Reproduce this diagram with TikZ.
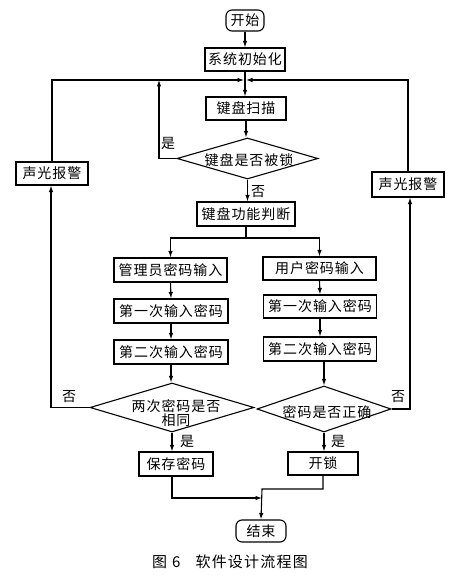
\documentclass[tikz,border=0pt]{standalone}
\usepackage{fontspec}
\newfontfamily\cjk[LetterSpace=7]{Noto Sans CJK SC}
\newfontfamily\cjkcap[LetterSpace=8]{Noto Sans CJK SC}
\usetikzlibrary{shapes.geometric,arrows.meta}
\tikzset{
  box/.style={draw, line width=1.1pt, inner sep=0pt, font=\cjk\fontsize{14}{15}\selectfont},
  term/.style={box, rounded corners=6pt},
  dia/.style={draw, line width=1.1pt, diamond, inner sep=0pt},
  ln/.style={line width=1.1pt},
  arr/.style={ln, -{Latex[length=6.5pt,width=4.5pt]}},
  lbl/.style={font=\cjk\fontsize{14}{15}\selectfont, inner sep=0pt},
}
\begin{document}
\begin{tikzpicture}[x=1pt,y=-1pt]
\fill[white] (0,0) rectangle (467,577);
\useasboundingbox (0,0) rectangle (467,577);
% nodes
\node[term, minimum width=38pt, minimum height=21pt] (start) at (245,20.5) {开始};
\node[box, minimum width=80pt, minimum height=23pt] (init) at (245,59.5) {系统初始化};
\node[box, minimum width=80pt, minimum height=23pt] (scan) at (246,108.5) {键盘扫描};
\node[dia, minimum width=141pt, minimum height=41pt] (lockd) at (247.5,158.5) {};
\node[lbl] (lockt) at (249,160) {键盘是否被锁};
\node[box, minimum width=72pt, minimum height=23pt] (alarmL) at (52,173.5) {声光报警};
\node[box, minimum width=72pt, minimum height=25pt] (alarmR) at (408,184.5) {声光报警};
\node[box, minimum width=98pt, minimum height=24pt] (func) at (246,214) {键盘功能判断};
\node[box, minimum width=113pt, minimum height=24pt] (adm) at (170.5,270) {管理员密码输入};
\node[box, minimum width=113pt, minimum height=23pt] (usr) at (319.5,268.5) {用户密码输入};
\node[box, minimum width=114pt, minimum height=24pt] (l1) at (171,311) {第一次输入密码};
\node[box, minimum width=113pt, minimum height=23pt] (r1) at (320,306.5) {第一次输入密码};
\node[box, minimum width=114pt, minimum height=24pt] (l2) at (171,352) {第二次输入密码};
\node[box, minimum width=113pt, minimum height=24pt] (r2) at (320,349) {第二次输入密码};
\node[dia, minimum width=164pt, minimum height=49pt] (d2) at (172,407.5) {};
\node[lbl, align=center] (d2t) at (176,413.5) {两次密码是否\\[-1pt]相同};
\node[dia, minimum width=134pt, minimum height=46pt] (d3) at (324,409) {};
\node[lbl] (d3t) at (327,412) {密码是否正确};
\node[box, minimum width=74pt, minimum height=24pt] (save) at (176,464) {保存密码};
\node[box, minimum width=70pt, minimum height=23pt] (unlock) at (323,463.5) {开锁};
\node[term, minimum width=50pt, minimum height=22pt] (end) at (261,531) {结束};
% connectors
\coordinate (J) at (245,80);
\draw[arr] (start.south) -- (init.north);
\draw[arr] (init.south) -- (init.south |- scan.north);
\draw[arr] (alarmL.north) -- (alarmL.north |- J) -- ([xshift=-1pt]J);
\draw[arr] (alarmR.north) -- (alarmR.north |- J) -- ([xshift=1pt]J);
\draw[arr] (scan.south) -- (scan.south |- lockd.north);
\draw[arr] (lockd.west) -- (159,158.5) -- (159,80);
\node[lbl] (yes1) at (168,143) {是};
\draw[arr] (lockd.south) -- (lockd.south |- func.north);
\node[lbl] (no1) at (258,192) {否};
\draw[ln] (func.south) -- (246,238) coordinate (F);
\draw[arr] (F) -| (adm.north);
\draw[arr] (F) -| (usr.north);
\draw[arr] (adm.south) -- (l1.north);
\draw[arr] (l1.south) -- (l2.north);
\draw[arr] (l2.south) -- (l2.south |- d2.north);
\draw[arr] (usr.south) -- (r1.north);
\draw[arr] (r1.south) -- (r2.north);
\draw[arr] (r2.south -| d3.north) -- (d3.north);
\draw[arr] (d2.west) -- (51,407.5) -- (alarmL.south -| 51,0);
\node[lbl] (no2) at (69,397) {否};
\draw[arr] (d3.east) -- (410,409) -- (alarmR.south -| 410,0);
\node[lbl] (no3) at (398,397) {否};
\draw[arr] (d2.south) -- (d2.south |- save.north);
\node[lbl] (yes2) at (187,441) {是};
\draw[arr] (d3.south) -- (d3.south |- unlock.north);
\node[lbl] (yes3) at (338,441) {是};
\coordinate (M) at (262,498);
\draw[arr] (d2.south |- save.south) -- (172,498) -- (M);
\draw[arr] (unlock.south) -- (323,489) -- (262,489) -- (end.north);
% caption
\node[inner sep=0pt, font=\cjkcap\fontsize{15}{16}\selectfont] (cap) at (230,562) {图\hspace{5pt}6\hspace{15pt}软件设计流程图};
\end{tikzpicture}
\end{document}
